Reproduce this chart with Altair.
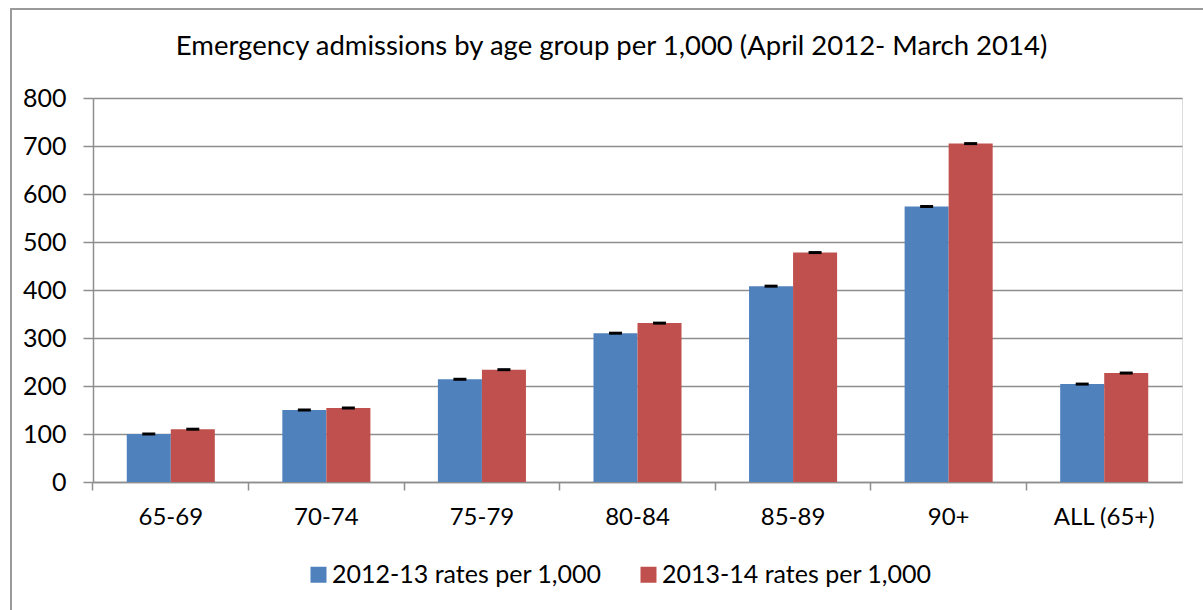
import altair as alt
import pandas as pd

# Emergency admission rates per 1,000 by age band, two financial years
groups = ["65-69", "70-74", "75-79", "80-84", "85-89", "90+", "ALL (65+)"]
series = ["2012-13 rates per 1,000", "2013-14 rates per 1,000"]
rates_2012_13 = [100, 150, 214, 310, 408, 574, 204]
rates_2013_14 = [110, 154, 234, 331, 478, 705, 227]
y_ticks = [0, 100, 200, 300, 400, 500, 600, 700, 800]

rows = []
for g, a, b in zip(groups, rates_2012_13, rates_2013_14):
    rows.append({"group": g, "series": series[0], "rate": a})
    rows.append({"group": g, "series": series[1], "rate": b})
df = pd.DataFrame(rows)

FONT = "Lato"
GRID = "#8e8e8e"
W, H = 1089, 384
PAD_IN = 0.434
# tick marks sit on the category boundaries, half an inner gap before each band
TICK_BAND = -(PAD_IN / 2) / (1 - PAD_IN)

x_enc = alt.X(
    "group:N",
    sort=groups,
    title=None,
    scale=alt.Scale(paddingInner=PAD_IN, paddingOuter=PAD_IN / 2),
    axis=alt.Axis(
        bandPosition=TICK_BAND,
        labelAngle=0,
        tickSize=8,
        tickColor=GRID,
        tickWidth=1.5,
        domainColor=GRID,
        domainWidth=1.5,
        labelPadding=15,
        labelFontSize=24,
        labelFont=FONT,
        labelColor="#000000",
        grid=False,
    ),
)
y_enc = alt.Y(
    "rate:Q",
    title=None,
    scale=alt.Scale(domain=[0, 800], nice=False),
    axis=alt.Axis(
        values=y_ticks,
        tickSize=10,
        tickColor=GRID,
        tickWidth=1.5,
        domainColor=GRID,
        domainWidth=1.5,
        gridColor=GRID,
        gridWidth=1.5,
        labelPadding=17,
        labelFontSize=25,
        labelFont=FONT,
        labelColor="#000000",
    ),
)
xoff = alt.XOffset("series:N", sort=series, scale=alt.Scale(paddingInner=0, paddingOuter=0))

bars = alt.Chart(df).mark_bar().encode(
    x=x_enc,
    xOffset=xoff,
    y=y_enc,
    color=alt.Color(
        "series:N",
        sort=series,
        scale=alt.Scale(domain=series, range=["#4f81bd", "#c0504d"]),
        legend=alt.Legend(
            title=None,
            orient="none",
            direction="horizontal",
            legendX=213,
            legendY=464,
            symbolType="square",
            symbolSize=256,
            symbolStrokeWidth=0,
            labelFontSize=25,
            labelFont=FONT,
            labelColor="#000000",
            labelLimit=0,
            columnPadding=34,
            labelOffset=1,
        ),
    ),
)

caps = alt.Chart(df).mark_tick(color="black", thickness=3, size=13, opacity=1).encode(
    x=alt.X("group:N", sort=groups),
    xOffset=alt.XOffset("series:N", sort=series),
    y="rate:Q",
)

frame = alt.Chart(df).mark_rect(filled=False, stroke="#9a9a9a", strokeWidth=2).encode(
    x=alt.value(-82), x2=alt.value(1130), y=alt.value(-89), y2=alt.value(540)
)

chart = (
    alt.layer(frame, bars, caps)
    .properties(
        width=W,
        height=H,
        title=alt.TitleParams(
            "Emergency admissions by age group per 1,000 (April 2012- March 2014)",
            font=FONT,
            fontSize=27.5,
            fontWeight="normal",
            color="#000000",
            anchor="middle",
            baseline="alphabetic",
            dx=-26,
            offset=-74,
        ),
        autosize=alt.AutoSizeParams(type="none"),
        padding={"left": 93, "top": 98, "right": 21, "bottom": 128},
    )
    .configure_view(stroke=None)
    .configure(background="white")
)

chart.save("out.html", embed_options={"renderer": "svg", "actions": False})
